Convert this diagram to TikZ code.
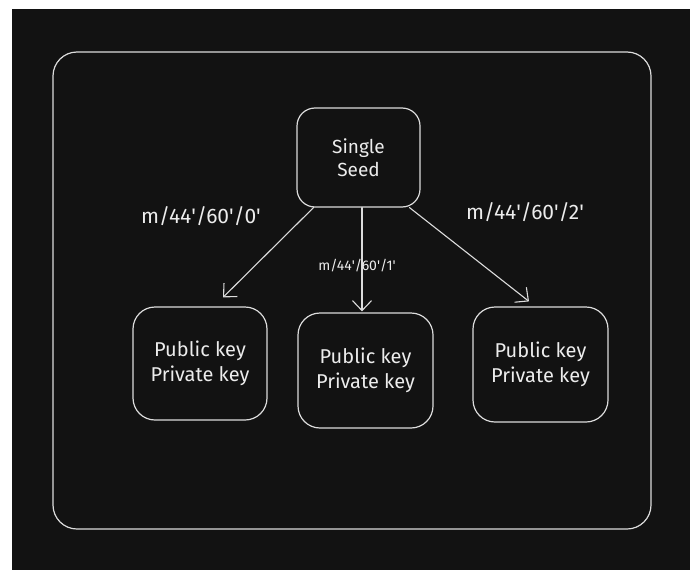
\documentclass[tikz,border=0pt]{standalone}
\usepackage{fontspec}
\setmainfont{Fira Sans}
\usetikzlibrary{arrows.meta}
\definecolor{canvasdark}{HTML}{121212}
\definecolor{chalk}{HTML}{DCDCDC}
\definecolor{chalktext}{HTML}{ECECEC}
\newcommand{\tick}{\textquotesingle}

\begin{document}
\begin{tikzpicture}[
  x=1pt,
  y=-1pt,
  line join=round,
  line cap=round,
  frame/.style={draw=chalk,line width=1.2pt,rounded corners=24pt},
  keybox/.style={draw=chalk,line width=1.2pt,rounded corners=22pt,
    minimum width=135pt,minimum height=114pt,inner sep=0pt,
    text=chalktext,align=center,font=\fontsize{20}{25}\selectfont},
  seedbox/.style={keybox,minimum width=123pt,minimum height=99pt,
    rounded corners=18pt,font=\fontsize{19}{23}\selectfont},
  link/.style={draw=chalk,line width=1.1pt,
    -{Straight Barb[length=10pt,width=19pt,line width=1.1pt]}},
  pathlabel/.style={text=chalktext,font=\fontsize{21}{24}\selectfont},
  smalllabel/.style={text=chalktext,font=\fontsize{14}{16}\selectfont}
]
  % Canvas with the thin white margin of the screenshot.
  \useasboundingbox (0,0) rectangle (696,570);
  \fill[white] (0,0) rectangle (696,570);
  \fill[canvasdark] (12,9) rectangle (690,570);

  % Outer rounded frame.
  \draw[frame] (53,52) rectangle (651,529);

  % Seed and derived key pairs.
  \node[seedbox] (seed) at (358.5,157.5) {Single\\Seed};
  \node[keybox,minimum width=134pt,minimum height=113pt] (keyA) at (200,363.5) {Public key\\Private key};
  \node[keybox,minimum height=115pt] (keyB) at (365.5,370.5) {Public key\\Private key};
  \node[keybox,minimum height=115pt] (keyC) at (540.5,364.5) {Public key\\Private key};

  % Derivation arrows.
  \draw[link] ([xshift=-45pt]seed.south) -- ([xshift=23pt,yshift=9pt]keyA.north);
  \draw[link] ([xshift=3.5pt]seed.south) -- ([xshift=-3.5pt,yshift=1pt]keyB.north);
  \draw[link] ([xshift=51pt]seed.south) -- ([xshift=-11.5pt,yshift=5pt]keyC.north);

  % Derivation paths.
  \node[pathlabel] (pathA) at (201,216) {m/44\tick/60\tick/0\tick};
  \node[smalllabel] (pathB) at (357,266) {m/44\tick/60\tick/1\tick};
  \node[pathlabel] (pathC) at (525,212) {m/44\tick/60\tick/2\tick};
\end{tikzpicture}
\end{document}
